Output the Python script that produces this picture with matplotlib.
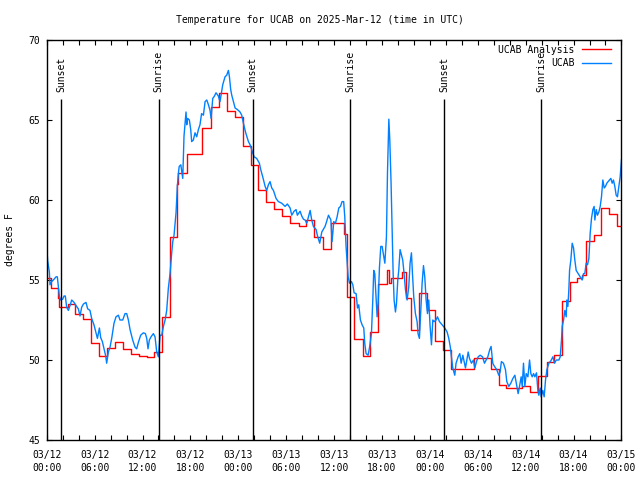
"""Temperature for UCAB, analysis vs. observations, 3 days in UTC."""

import pandas as pd
import matplotlib
matplotlib.use("Agg")
import matplotlib.pyplot as plt
import matplotlib.dates as mdates

START = pd.Timestamp("2025-03-12 00:00")

# hours since START, analysis (step) values
red_hours = [0.0, 0.55, 1.4, 1.6, 2.7, 3.5, 4.6, 5.5, 6.6, 7.6, 8.5, 9.5, 10.5,
             11.6, 12.6, 13.5, 14.5, 15.5, 16.3, 16.5, 17.6, 19.5, 20.55, 21.6,
             22.55, 23.6, 24.55, 25.55, 26.45, 27.45, 28.5, 29.45, 30.5, 31.55,
             32.5, 33.5, 34.6, 35.6, 37.2, 37.65, 38.55, 39.6, 40.45, 41.5,
             42.6, 42.9, 43.1, 44.5, 45.0, 45.6, 46.6, 47.6, 48.6, 49.6, 50.6,
             53.5, 55.6, 56.6, 57.6, 59.6, 60.5, 61.6, 62.65, 63.6, 64.55,
             65.6, 66.4, 67.0, 67.6, 68.5, 69.5, 70.5, 71.5, 72.0]
red_temps = [55.1, 54.5, 53.85, 53.3, 53.5, 52.9, 52.55, 51.05, 50.25, 50.75,
             51.15, 50.7, 50.35, 50.25, 50.2, 50.5, 52.7, 57.7, 61.0, 61.7,
             62.9, 64.5, 65.8, 66.7, 65.55, 65.2, 63.35, 62.2, 60.6, 59.85,
             59.45, 59.0, 58.55, 58.35, 58.75, 57.7, 56.95, 58.55, 57.9, 53.95,
             51.3, 50.25, 51.75, 54.75, 55.6, 54.8, 55.15, 55.5, 53.9, 51.9,
             54.2, 53.1, 51.2, 50.6, 49.45, 50.1, 49.45, 48.45, 48.25, 48.4,
             48.0, 49.0, 49.9, 50.3, 53.7, 54.85, 55.1, 55.3, 57.45, 57.8,
             59.5, 59.15, 58.4, 58.4]

# hours since START, station observations
blue_hours = [
    0.0, 0.12, 0.33, 0.41, 0.62, 0.83, 1.17, 1.33, 1.46, 1.58, 1.75, 2.0,
    2.17, 2.33, 2.5, 2.71, 2.92, 3.13, 3.42, 3.67, 3.96, 4.17, 4.38, 4.6,
    4.92, 5.13, 5.42, 5.63, 5.92, 6.18, 6.35, 6.6, 6.76, 6.97, 7.18, 7.39,
    7.51, 7.72, 7.93, 8.14, 8.43, 8.68, 8.98, 9.18, 9.52, 9.81, 10.02, 10.23,
    10.44, 10.77, 11.07, 11.27, 11.48, 11.77, 12.11, 12.36, 12.53, 12.69,
    12.86, 13.07, 13.36, 13.57, 13.78, 13.99, 14.2, 14.41, 14.62, 14.83,
    15.03, 15.24, 15.45, 15.66, 15.79, 15.95, 16.2, 16.37, 16.5, 16.6, 16.8,
    17.04, 17.2, 17.37, 17.45, 17.54, 17.66, 17.87, 18.04, 18.16, 18.37,
    18.58, 18.79, 19.0, 19.2, 19.4, 19.63, 19.84, 20.05, 20.26, 20.46, 20.59,
    20.8, 20.96, 21.21, 21.5, 21.71, 22.05, 22.34, 22.55, 22.76, 22.89,
    23.05, 23.18, 23.39, 23.6, 23.89, 24.22, 24.43, 24.64, 24.93, 25.27,
    25.48, 25.77, 25.98, 26.3, 26.64, 26.81, 27.06, 27.36, 27.56, 27.77,
    27.98, 28.19, 28.4, 28.73, 29.02, 29.44, 29.86, 30.15, 30.49, 30.7,
    30.99, 31.24, 31.4, 31.74, 31.95, 32.16, 32.37, 32.58, 33.0, 33.2, 33.41,
    33.75, 33.9, 34.2, 34.46, 34.87, 35.0, 35.3, 35.6, 35.75, 35.96, 36.17,
    36.38, 36.59, 36.8, 37.0, 37.2, 37.34, 37.5, 37.76, 37.93, 38.18, 38.35,
    38.51, 38.76, 38.93, 39.09, 39.3, 39.51, 39.72, 39.84, 40.01, 40.26,
    40.43, 40.68, 40.85, 40.97, 41.1, 41.27, 41.39, 41.52, 41.68, 41.85,
    42.02, 42.23, 42.36, 42.44, 42.56, 42.69, 42.86, 42.98, 43.14, 43.27,
    43.4, 43.52, 43.69, 43.82, 43.98, 44.1, 44.27, 44.44, 44.6, 44.77, 44.94,
    45.15, 45.36, 45.52, 45.69, 45.82, 45.98, 46.19, 46.4, 46.52, 46.69,
    46.82, 47.03, 47.2, 47.36, 47.53, 47.7, 47.86, 48.03, 48.2, 48.37, 48.53,
    48.78, 48.95, 49.2, 49.53, 49.87, 50.16, 50.37, 50.58, 50.7, 50.87,
    51.12, 51.28, 51.54, 51.75, 51.92, 52.13, 52.29, 52.46, 52.63, 52.8,
    52.96, 53.21, 53.46, 53.63, 53.84, 54.05, 54.3, 54.6, 54.84, 55.05,
    55.26, 55.5, 55.67, 55.88, 56.09, 56.38, 56.63, 56.8, 56.96, 57.22,
    57.47, 57.64, 57.89, 58.14, 58.4, 58.65, 58.9, 59.06, 59.23, 59.44,
    59.57, 59.73, 59.9, 60.07, 60.28, 60.49, 60.65, 60.82, 60.99, 61.15,
    61.36, 61.53, 61.65, 61.82, 61.94, 62.15, 62.32, 62.49, 62.66, 62.91,
    63.16, 63.41, 63.62, 63.83, 64.16, 64.33, 64.49, 64.58, 64.75, 64.91,
    65.08, 65.16, 65.29, 65.41, 65.5, 65.66, 65.83, 66.0, 66.16, 66.33,
    66.58, 66.83, 67.08, 67.25, 67.41, 67.58, 67.75, 67.92, 68.08, 68.25,
    68.42, 68.58, 68.67, 68.84, 69.0, 69.17, 69.34, 69.5, 69.67, 69.84, 70.0,
    70.17, 70.34, 70.5, 70.67, 70.84, 71.0, 71.17, 71.34, 71.5, 71.67, 71.84,
    72.0]
blue_temps = [
    57.1, 56.2, 55.5, 54.7, 54.9, 55.0, 55.2, 55.2, 54.6, 54.0, 53.75, 53.8,
    54.0, 54.0, 53.3, 53.1, 53.4, 53.75, 53.6, 53.4, 53.2, 52.75, 53.3, 53.5,
    53.6, 53.2, 53.1, 52.6, 52.2, 51.7, 51.35, 52.0, 51.4, 51.15, 50.7, 50.25,
    49.8, 50.5, 50.8, 51.35, 52.3, 52.7, 52.8, 52.5, 52.5, 52.9, 52.9, 52.5,
    51.9, 51.25, 50.8, 50.7, 51.1, 51.55, 51.7, 51.65, 51.35, 50.7,
    51.25, 51.45, 51.65, 51.45, 50.5, 50.2, 51.55, 51.55, 52.1, 52.5,
    53.1, 54.5, 55.4, 56.7, 57.4, 57.8, 59.2, 60.9, 61.7, 62.1, 62.2,
    61.35, 64.0, 65.0, 65.5, 64.7, 65.1, 65.0, 64.4, 63.65, 63.75,
    64.2, 63.95, 64.4, 64.7, 65.4, 65.3, 66.15, 66.25, 65.95, 65.6, 65.1,
    66.35, 66.45, 66.7, 66.5, 66.15, 67.2, 67.7, 67.8, 68.1, 67.7,
    66.9, 66.55, 66.15, 65.75, 65.65, 65.5, 65.3, 64.8, 64.2, 63.65,
    63.45, 63.0, 62.7, 62.6, 62.3, 61.9, 61.45, 60.85, 60.6, 60.95,
    61.15, 60.75, 60.6, 60.1, 59.9, 59.8, 59.6, 59.75, 59.5, 59.05,
    59.3, 59.4, 59.05, 59.3, 59.0, 58.8, 58.75, 58.55, 59.35, 58.75, 58.35,
    58.15, 57.8, 57.3, 58.0, 58.35, 58.55, 59.05, 58.75, 57.4, 58.65, 58.55,
    58.95, 59.5, 59.6, 59.9, 59.9, 58.95, 57.1, 55.2, 54.8, 54.9, 54.7,
    54.2, 54.15, 53.25, 53.45, 52.5, 52.2, 52.0, 51.05, 50.4, 50.3,
    50.75, 51.65, 53.75, 55.6, 55.4, 53.75, 52.7, 53.55, 55.75, 57.1,
    57.1, 56.45, 56.05, 56.75, 57.7, 61.7, 65.05, 63.75, 61.05, 58.35,
    55.4, 53.75, 53.0, 53.55, 55.0, 55.6, 56.9, 56.55, 56.25, 55.4, 54.4,
    53.75, 54.6, 56.05, 56.7, 55.4, 53.95, 52.9, 52.4, 51.65, 51.35,
    52.7, 54.8, 55.9, 55.2, 53.75, 52.9, 53.75, 52.1, 50.95, 52.5, 52.4,
    52.5, 52.7, 52.4, 52.2, 52.0, 51.75, 51.35, 50.75, 50.2, 49.5,
    49.05, 49.8, 50.2, 50.4, 49.8, 50.3, 49.9, 49.5, 50.0, 50.5,
    50.1, 49.8, 50.0, 49.5, 49.9, 50.2, 50.3, 50.2, 49.8, 50.0,
    50.2, 50.65, 50.85, 49.8, 49.6, 49.4, 49.05, 49.25, 49.9, 49.8,
    49.4, 48.65, 48.35, 48.55, 48.85, 49.05, 48.35, 47.9, 48.35, 48.95,
    48.35, 49.8, 48.35, 49.15, 48.95, 50.0, 49.15, 48.95, 49.15, 48.95,
    49.2, 48.1, 47.8, 48.25, 47.7, 48.1, 47.7, 48.75, 49.4, 49.8,
    49.95, 50.2, 49.8, 50.0, 50.0, 50.2, 51.25, 52.1, 52.5, 53.1,
    52.7, 53.75, 53.35, 54.4, 55.6, 56.25, 57.3, 57.0, 56.25, 55.6,
    55.4, 55.2, 55.0, 55.4, 55.4, 56.05, 55.95, 56.35, 57.9, 58.85,
    59.4, 59.6, 58.75, 59.4, 59.05, 59.25, 59.6, 60.2, 61.25, 60.75, 60.85,
    61.05, 61.15, 61.25, 61.35, 61.05, 61.25, 60.85, 60.3, 60.2, 60.85, 61.45,
    62.5]

sun_labels = ["Sunset", "Sunrise", "Sunset", "Sunrise", "Sunset", "Sunrise"]
sun_times = ["2025-03-12 01:50", "2025-03-12 14:02", "2025-03-13 01:47",
             "2025-03-13 14:02", "2025-03-14 01:47", "2025-03-14 13:55"]


def to_times(hours):
    return START + pd.to_timedelta(hours, unit="h")


def main():
    plt.rcParams["font.family"] = ["DejaVu Sans Mono"]
    plt.rcParams["font.size"] = 7

    fig = plt.figure(figsize=(6.4, 4.8), dpi=100)
    ax = fig.add_axes([0.073, 0.0833, 0.898, 0.8334])

    ax.step(to_times(red_hours), red_temps, where="post", color="#ff0000",
            lw=1.0, label="UCAB Analysis")
    ax.plot(to_times(blue_hours), blue_temps, color="#0080ff", lw=1.0,
            label="UCAB")

    for lab, t in zip(sun_labels, sun_times):
        t = pd.Timestamp(t)
        ax.vlines(t, 45, 66.3, color="black", lw=1.0)
        ax.text(t, 66.75, lab, rotation=90, ha="center", va="bottom",
                fontsize=7)

    ax.set_xlim(START, START + pd.Timedelta(hours=72))
    ax.set_ylim(45, 70)
    ax.set_yticks(range(45, 71, 5))
    ax.xaxis.set_major_locator(mdates.HourLocator(byhour=[0, 6, 12, 18]))
    ax.xaxis.set_minor_locator(mdates.HourLocator(interval=2))
    ax.xaxis.set_major_formatter(mdates.DateFormatter("%m/%d\n%H:%M"))
    ax.tick_params(which="both", direction="in", top=True, right=True,
                   length=3.5, width=0.8)
    ax.tick_params(axis="x", pad=7)
    ax.tick_params(axis="y", pad=5)
    for s in ax.spines.values():
        s.set_linewidth(1.0)

    ax.set_ylabel("degrees F")
    ax.yaxis.set_label_coords(-0.056, 0.5)
    fig.text(0.5, 1 - 20 / 480, "Temperature for UCAB on 2025-Mar-12 (time in UTC)",
             ha="center", va="center", fontsize=7)
    ax.legend(loc="upper right", bbox_to_anchor=(0.99, 1.0), frameon=False,
              markerfirst=False, handlelength=3.0, handletextpad=0.7,
              labelspacing=0.35, borderaxespad=0.4, borderpad=0.1, fontsize=7)

    fig.canvas.draw()
    for lab in ax.get_xticklabels():
        lab.set_linespacing(1.45)

    fig.savefig("out.png", dpi=100)


if __name__ == "__main__":
    main()
